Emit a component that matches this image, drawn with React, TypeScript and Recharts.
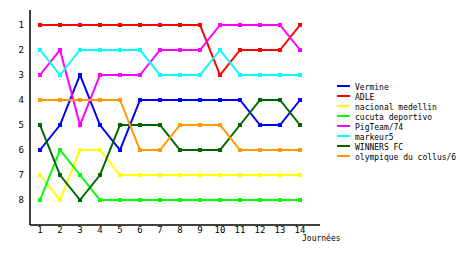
import React from 'react';
import { LineChart, Line, XAxis, YAxis, Label } from 'recharts';

const journees = [1, 2, 3, 4, 5, 6, 7, 8, 9, 10, 11, 12, 13, 14];

const vermine = [6, 5, 3, 5, 6, 4, 4, 4, 4, 4, 4, 5, 5, 4];
const adle = [1, 1, 1, 1, 1, 1, 1, 1, 1, 3, 2, 2, 2, 1];
const nacional = [7, 8, 6, 6, 7, 7, 7, 7, 7, 7, 7, 7, 7, 7];
const cucuta = [8, 6, 7, 8, 8, 8, 8, 8, 8, 8, 8, 8, 8, 8];
const pigteam = [3, 2, 5, 3, 3, 3, 2, 2, 2, 1, 1, 1, 1, 2];
const markeur = [2, 3, 2, 2, 2, 2, 3, 3, 3, 2, 3, 3, 3, 3];
const winners = [5, 7, 8, 7, 5, 5, 5, 6, 6, 6, 5, 4, 4, 5];
const olympique = [4, 4, 4, 4, 4, 6, 6, 5, 5, 5, 6, 6, 6, 6];

const rankTicks = [1, 2, 3, 4, 5, 6, 7, 8];

const series = [
  { key: 'vermine', name: 'Vermine', color: '#0000ff', values: vermine },
  { key: 'adle', name: 'ADLE', color: '#ff0000', values: adle },
  { key: 'nacional', name: 'nacional medellin', color: '#ffff00', values: nacional },
  { key: 'cucuta', name: 'cucuta deportivo', color: '#00ff00', values: cucuta },
  { key: 'pigteam', name: 'PigTeam/74', color: '#ff00ff', values: pigteam },
  { key: 'markeur', name: 'markeur5', color: '#00ffff', values: markeur },
  { key: 'winners', name: 'WINNERS FC', color: '#006600', values: winners },
  { key: 'olympique', name: 'olympique du collus/6', color: '#ff9900', values: olympique },
];

const data = journees.map((j, i) => {
  const row: Record<string, number> = { journee: j };
  series.forEach(s => {
    row[s.key] = s.values[i];
  });
  return row;
});

const font = '"DejaVu Sans Mono", monospace';

const SquareDot = (props: any) => {
  const { cx, cy, stroke } = props;
  if (cx == null || cy == null) return null;
  return <rect x={cx - 2} y={cy - 2} width={4} height={4} fill={stroke} />;
};

const App: React.FC = () => {
  return (
    <div style={{ position: 'absolute', left: 0, top: 0, width: 460, height: 255, background: '#fff' }}>
      <LineChart width={460} height={255} data={data} margin={{ top: 10, right: 140, bottom: 0, left: 0 }}>
        <XAxis
          dataKey="journee"
          type="number"
          domain={[0.5, 15]}
          ticks={journees}
          interval={0}
          height={30}
          axisLine={{ stroke: '#000', strokeWidth: 1.5 }}
          tickLine={false}
          tickSize={2}
          tickMargin={0}
          tick={{ fill: '#000', fontSize: 9, fontFamily: font }}
        >
          <Label value="Journées" position="right" offset={-18} dy={-2} fill="#000" fontSize={8} fontFamily={font} />
        </XAxis>
        <YAxis
          type="number"
          domain={[0.4, 9]}
          reversed
          ticks={rankTicks}
          interval={0}
          width={30}
          axisLine={{ stroke: '#000', strokeWidth: 1.5 }}
          tickLine={false}
          tickSize={4}
          tickMargin={2}
          tick={{ fill: '#000', fontSize: 9, fontFamily: font }}
        />
        {series.map(s => (
          <Line
            key={s.key}
            dataKey={s.key}
            name={s.name}
            stroke={s.color}
            strokeWidth={2}
            type="linear"
            dot={<SquareDot />}
            activeDot={false}
            isAnimationActive={false}
          />
        ))}
      </LineChart>
      <div style={{ position: 'absolute', left: 337, top: 83, fontFamily: font, fontSize: 8, lineHeight: '10px', color: '#000' }}>
        {series.map(s => (
          <div key={s.key} style={{ display: 'flex', alignItems: 'flex-start', height: 10 }}>
            <span style={{ display: 'inline-block', width: 13, height: 2, marginTop: 2, background: s.color, marginRight: 5 }} />
            <span style={{ whiteSpace: 'nowrap' }}>{s.name}</span>
          </div>
        ))}
      </div>
    </div>
  );
};

export default App;
